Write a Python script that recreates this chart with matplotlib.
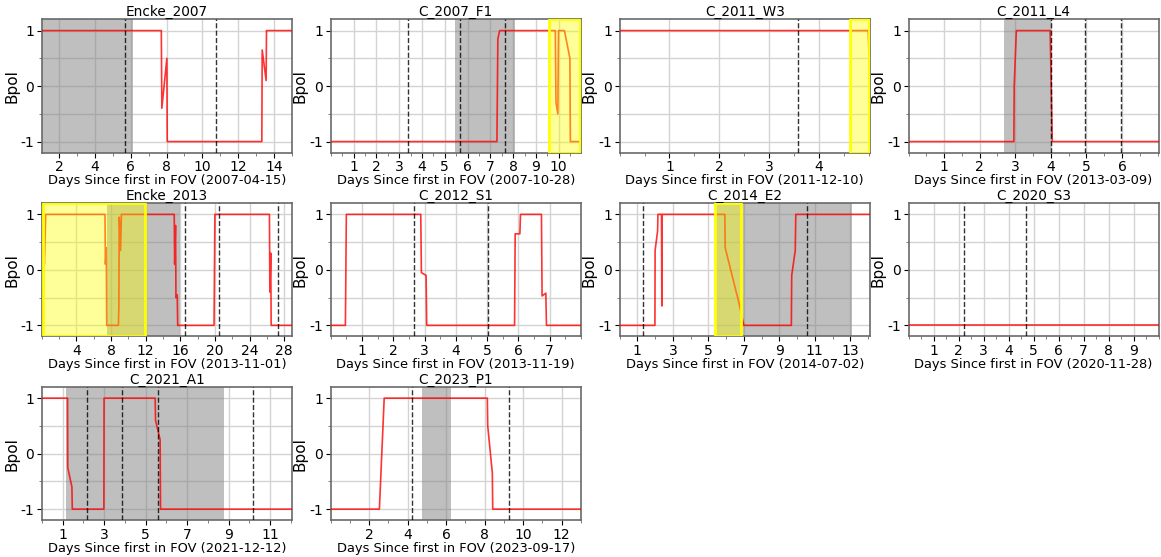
import matplotlib
matplotlib.use("Agg")
import numpy as np
import matplotlib.pyplot as plt
from matplotlib.ticker import AutoMinorLocator, MultipleLocator

# --- panel titles / dates ---
names = ["Encke_2007", "C_2007_F1", "C_2011_W3", "C_2011_L4",
         "Encke_2013", "C_2012_S1", "C_2014_E2", "C_2020_S3",
         "C_2021_A1", "C_2023_P1"]
dates = ["2007-04-15", "2007-10-28", "2011-12-10", "2013-03-09",
         "2013-11-01", "2013-11-19", "2014-07-02", "2020-11-28",
         "2021-12-12", "2023-09-17"]
xlims = [(1.04, 15.0), (0, 10.97), (0, 5.02), (0, 7.03),
         (0, 28.9), (0, 8.0), (0, 14.1), (0, 10.0),
         (0, 12.05), (0, 13.0)]
xtick_step = [2, 1, 1, 1, 4, 1, 2, 1, 2, 2]
xtick_start = [2, 1, 1, 1, 4, 1, 1, 1, 1, 2]

# --- Bpol traces (days, Bpol) ---
encke07_x = [1.04, 7.71, 7.74, 8.02, 8.04, 13.32, 13.34, 13.56, 13.58, 15.0]
encke07_y = [1, 1, -0.4, 0.5, -1, -1, 0.65, 0.1, 1, 1]
f1_x = [0, 7.29, 7.33, 7.41, 9.85, 9.88, 9.96, 9.99, 10.25, 10.49, 10.51, 10.9]
f1_y = [-1, -1, 0.85, 1, 1, -0.3, -0.5, 1, 1, 0.5, -1, -1]
w3_x = [0, 4.99, 5.03]
w3_y = [1, 1, -0.3]
l4_x = [0, 2.96, 2.97, 3.03, 3.98, 4.04, 7.03]
l4_y = [-1, -1, 0, 1, 1, -1, -1]
encke13_x = [0.1, 0.25, 0.3, 0.45, 7.3, 7.35, 7.45, 7.5, 8.85, 8.9, 8.95, 9.1, 9.2,
             15.3, 15.35, 15.45, 15.5, 15.65, 15.7, 19.9, 20.0, 26.3, 26.35,
             26.45, 26.5, 28.9]
encke13_y = [-1, 0.2, 0.1, 1, 1, 0.1, 0.4, -1, -1, -0.7, 0.95, 0.35, 1,
             1, 0.1, 0.8, -0.5, -0.45, -1, -1, 1, 1, -0.4,
             0.3, -1, -1]
s1_x = [0, 0.47, 0.5, 2.88, 2.9, 3.05, 3.07, 5.88, 5.9, 6.05, 6.07, 6.74,
        6.76, 6.88, 6.9, 8.0]
s1_y = [-1, -1, 1, 1, -0.05, -0.1, -1, -1, 0.65, 0.65, 1, 1,
        -0.47, -0.42, -1, -1]
e2_x = [0, 1.99, 2.0, 2.14, 2.16, 2.36, 2.38, 2.4, 2.42, 5.93, 5.95, 6.73,
        7.0, 9.68, 9.7, 9.9, 9.93, 14.1]
e2_y = [-1, -1, 0.35, 0.7, 1, 1, -0.65, 1, 1, 1, 0.4, -0.6,
        -1, -1, -0.1, 0.35, 1, 1]
s3_x = [0, 10.0]
s3_y = [-1, -1]
a1_x = [0, 1.24, 1.25, 1.45, 1.47, 2.99, 3.0, 5.46, 5.48, 5.7, 5.72, 12.05]
a1_y = [1, 1, -0.25, -0.6, -1, -1, 1, 1, 0.6, 0.25, -1, -1]
p1_x = [0, 2.53, 2.78, 8.14, 8.16, 8.4, 8.42, 13.0]
p1_y = [-1, -1, 1, 1, 0.5, -0.35, -1, -1]

traces_x = [encke07_x, f1_x, w3_x, l4_x, encke13_x, s1_x, e2_x, s3_x, a1_x, p1_x]
traces_y = [encke07_y, f1_y, w3_y, l4_y, encke13_y, s1_y, e2_y, s3_y, a1_y, p1_y]

# --- shaded intervals (days) ---
gray_spans = [[(1.04, 6.14)], [(5.44, 8.1)], [], [(2.68, 3.99)],
              [(7.55, 15.95)], [], [(5.4, 13.1)], [],
              [(1.16, 8.8)], [(4.72, 6.24)]]
yellow_spans = [[], [(9.58, 10.93)], [(4.62, 5.0)], [],
                [(0.1, 11.9)], [], [(5.4, 6.83)], [],
                [], []]
# --- dashed markers (days) ---
dashed = [[5.68, 10.78], [3.4, 5.66, 7.65], [3.57], [3.99, 4.96, 5.97],
          [16.6, 20.5, 27.3], [2.66, 5.02], [1.3, 10.55], [2.2, 4.68],
          [2.17, 3.84, 5.59, 10.16], [4.24, 9.26]]

fig, axes = plt.subplots(3, 4, figsize=(11.61, 5.57), dpi=100)
fig.subplots_adjust(left=0.036, right=0.998, top=0.965, bottom=0.066,
                    wspace=0.155, hspace=0.38)
axes = axes.ravel()

for i, ax in enumerate(axes):
    if i >= len(names):
        ax.remove()
        continue
    for a, b in gray_spans[i]:
        ax.axvspan(a, b, color="gray", alpha=0.5, lw=0, zorder=1)
    ax.plot(traces_x[i], traces_y[i], color="red", lw=1.2, alpha=0.8, zorder=3)
    for a, b in yellow_spans[i]:
        ax.axvspan(a, b, facecolor="yellow", alpha=0.4, edgecolor="none", zorder=4)
        ax.axvspan(a, b, facecolor="none", edgecolor="yellow", lw=2, zorder=5)
    for d in dashed[i]:
        ax.axvline(d, color="black", ls="--", lw=1, alpha=0.8, zorder=6)

    lo, hi = xlims[i]
    ax.set_xlim(lo, hi)
    ax.set_ylim(-1.2, 1.2)
    ticks = np.arange(xtick_start[i], hi - 0.05, xtick_step[i])
    ax.set_xticks(ticks)
    ax.set_xticklabels([f"{t:g}" for t in ticks])
    ax.xaxis.set_minor_locator(AutoMinorLocator(2))
    ax.set_yticks([-1, 0, 1])
    ax.set_yticklabels(["-1", "0", "1"])
    ax.yaxis.set_minor_locator(MultipleLocator(0.5))
    ax.grid(True, which="major", color="lightgray", lw=1, zorder=0)
    ax.grid(True, which="minor", axis="y", color="lightgray", lw=1, zorder=0)
    ax.set_axisbelow(True)
    for sp in ax.spines.values():
        sp.set_color("dimgray")
        sp.set_linewidth(1.2)
    ax.tick_params(which="major", length=3.5, pad=2, labelsize=10, colors="black")
    ax.tick_params(which="minor", length=2, colors="dimgray")
    ax.set_title(names[i], fontsize=9.8, pad=2)
    ax.set_xlabel(f"Days Since first in FOV ({dates[i]})", fontsize=9.4, labelpad=0)
    ax.set_ylabel("Bpol", fontsize=11, labelpad=1)

fig.savefig("out.png", dpi=100)
